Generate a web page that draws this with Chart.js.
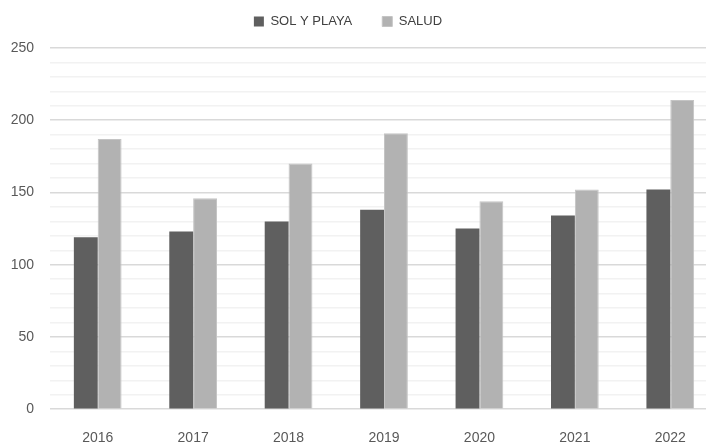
<!DOCTYPE html>
<html>
<head>
<meta charset="utf-8">
<script src="https://cdn.jsdelivr.net/npm/chart.js@4/dist/chart.umd.min.js"></script>
<style>
  html, body { margin: 0; padding: 0; background: #fff; overflow: hidden; }
  #wrap { width: 720px; height: 460px; position: relative; }
</style>
</head>
<body>
<div id="wrap"><canvas id="chart"></canvas></div>
<script>
// --- datos ---
const years = ['2016', '2017', '2018', '2019', '2020', '2021', '2022'];
const solYPlaya = [119, 123, 130, 138, 125, 134, 152];
const salud = [187, 146, 170, 191, 144, 152, 214];
const yTicks = [0, 50, 100, 150, 200, 250];

const ctx = document.getElementById('chart').getContext('2d');

// mueve la leyenda (el original está recortado a la derecha)
const shiftLegend = {
    id: 'shiftLegend',
    afterLayout(chart) {
        const lg = chart.legend;
        lg.left -= 11;
        lg.right -= 11;
        lg.top -= 10;
        lg.bottom -= 10;
    }
};

new Chart(ctx, {
    type: 'bar',
    data: {
        labels: years,
        datasets: [{
            label: 'SOL Y PLAYA',
            data: solYPlaya,
            backgroundColor: '#5f5f5f',
            borderWidth: 0
        }, {
            label: 'SALUD',
            data: salud,
            backgroundColor: '#b2b2b2',
            borderColor: '#c4c4c4',
            borderWidth: 1
        }]
    },
    options: {
        responsive: true,
        maintainAspectRatio: false,
        animation: false,
        datasets: { bar: { categoryPercentage: 0.5, barPercentage: 1 } },
        layout: { padding: { top: -5, right: 2, left: 0, bottom: 0 } },
        plugins: {
            legend: {
                position: 'top',
                labels: {
                    boxWidth: 10,
                    boxHeight: 10,
                    padding: 30,
                    color: '#404040',
                    font: { family: 'Liberation Sans', size: 13 }
                }
            },
            tooltip: { enabled: false }
        },
        scales: {
            x: {
                grid: { display: false },
                border: { display: false },
                ticks: {
                    color: '#595959',
                    padding: 13,
                    autoSkip: false,
                    maxRotation: 0,
                    font: { family: 'Liberation Sans', size: 14 }
                }
            },
            y: {
                min: 0,
                max: 250,
                border: { display: false },
                afterFit(scale) { scale.width = 50; },
                grid: {
                    color: c => (c.tick.value % 50 === 0 ? '#d9d9d9' : '#f2f2f2'),
                    lineWidth: 1.5,
                    drawTicks: false
                },
                ticks: {
                    stepSize: 10,
                    autoSkip: false,
                    padding: 16,
                    color: '#595959',
                    font: { family: 'Liberation Sans', size: 14 },
                    callback: v => (yTicks.includes(v) ? v : '')
                }
            }
        }
    },
    plugins: [shiftLegend]
});
</script>
</body>
</html>
